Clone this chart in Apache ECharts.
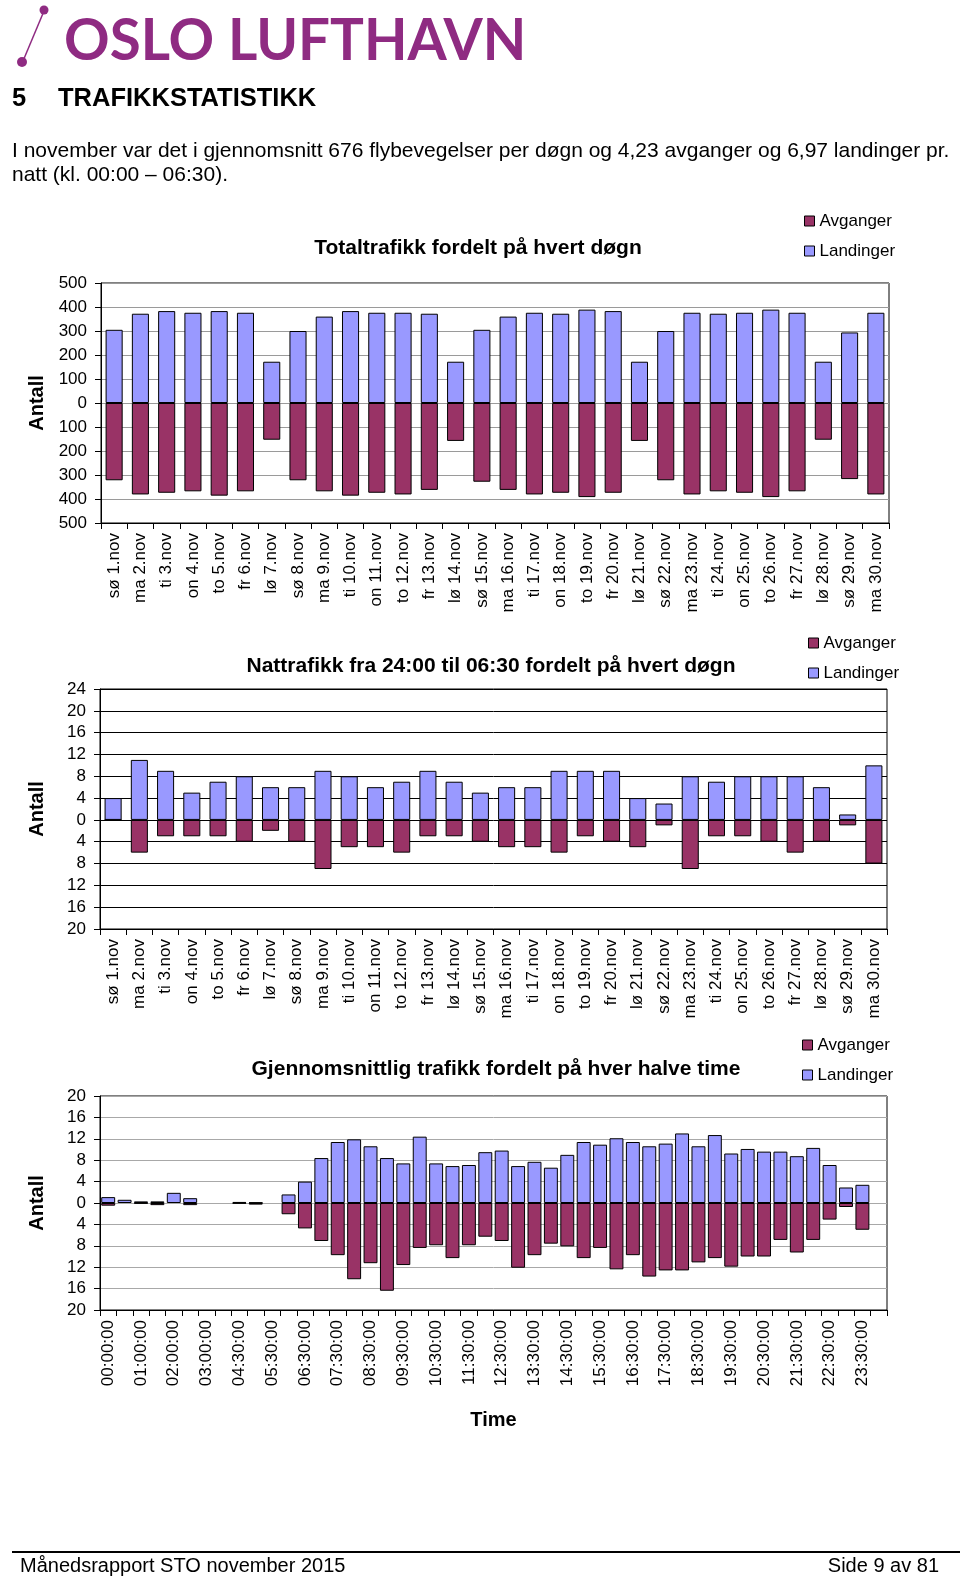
<!DOCTYPE html>
<html>
<head>
<meta charset="utf-8">
<script src="https://cdn.jsdelivr.net/npm/echarts@6/dist/echarts.min.js"></script>
<style>
html,body{margin:0;padding:0;background:#fff;}
#c{width:960px;height:1579px;}
</style>
</head>
<body>
<div id="c"></div>
<script>
// ---------- DATA ----------
var days = ['sø 1.nov','ma 2.nov','ti 3.nov','on 4.nov','to 5.nov','fr 6.nov','lø 7.nov','sø 8.nov','ma 9.nov','ti 10.nov','on 11.nov','to 12.nov','fr 13.nov','lø 14.nov','sø 15.nov','ma 16.nov','ti 17.nov','on 18.nov','to 19.nov','fr 20.nov','lø 21.nov','sø 22.nov','ma 23.nov','ti 24.nov','on 25.nov','to 26.nov','fr 27.nov','lø 28.nov','sø 29.nov','ma 30.nov'];

var totalLandinger = [305,372,383,376,383,376,172,300,360,383,376,376,372,172,305,360,376,372,389,383,172,300,376,372,376,389,376,172,294,376];
var totalAvganger  = [322,381,374,368,386,368,153,322,368,386,374,381,362,158,328,362,381,374,392,374,158,322,381,368,374,392,368,153,317,381];

var nattLandinger = [4,11,9,5,7,8,6,6,9,8,6,7,9,7,5,6,6,9,9,9,4,3,8,7,8,8,8,6,1,10];
var nattAvganger  = [0,6,3,3,3,4,2,4,9,5,5,6,3,3,4,5,5,6,3,4,5,1,9,3,3,4,6,4,1,8];

var halfHours = ['00:00:00','00:30:00','01:00:00','01:30:00','02:00:00','02:30:00','03:00:00','04:00:00','04:30:00','05:00:00','05:30:00','06:00:00','06:30:00','07:00:00','07:30:00','08:00:00','08:30:00','09:00:00','09:30:00','10:00:00','10:30:00','11:00:00','11:30:00','12:00:00','12:30:00','13:00:00','13:30:00','14:00:00','14:30:00','15:00:00','15:30:00','16:00:00','16:30:00','17:00:00','17:30:00','18:00:00','18:30:00','19:00:00','19:30:00','20:00:00','20:30:00','21:00:00','21:30:00','22:00:00','22:30:00','23:00:00','23:30:00',''];
var halvLandinger = [1.1,0.6,0.3,0.3,1.9,0.9,null,null,0.2,0.1,null,1.6,4.0,8.4,11.4,11.9,10.6,8.4,7.4,12.4,7.4,6.9,7.1,9.5,9.8,6.9,7.7,6.6,9.0,11.4,10.9,12.1,11.4,10.6,11.1,13.0,10.6,12.7,9.25,10.1,9.6,9.6,8.75,10.3,7.1,2.9,3.4,null];
var halvAvganger  = [0.5,null,0.1,0.4,null,0.4,null,null,0.1,0.3,null,2.1,4.75,7.1,9.75,14.25,11.25,16.4,11.6,8.4,7.9,10.3,7.9,6.3,7.1,12.1,9.75,7.6,8.1,10.3,8.4,12.4,9.75,13.75,12.6,12.6,11.1,10.3,11.9,10.0,10.0,6.9,9.25,6.9,3.1,0.75,5.0,null];

var seriesNames = ['Avganger','Landinger'];
var colAvg = '#993366', colLand = '#9999FF';

// ---------- CHART ----------
var FONT = '"Liberation Sans", Arial, sans-serif';
var chart = echarts.init(document.getElementById('c'), null, {renderer:'canvas'});

function neg(a){ return a.map(function(v){ return v == null ? null : -v; }); }

function mkX(gi, data, labelInterval, name){
  return {
    type:'category', gridIndex:gi, data:data,
    axisLine:{show:true, onZero:false, lineStyle:{color:'#000', width:1}},
    axisTick:{show:true, interval:0, length:6, lineStyle:{color:'#000'}},
    axisLabel:{interval:labelInterval, rotate:90, fontSize:17, color:'#000', fontFamily:FONT, margin:10},
    splitLine:{show:false},
    name: name || '', nameLocation:'middle', nameGap:100,
    nameTextStyle:{fontSize:20, fontWeight:'bold', color:'#000', fontFamily:FONT}
  };
}
function mkY(gi, min, max, interval, gridColor){
  return {
    type:'value', gridIndex:gi, min:min, max:max, interval:interval,
    axisLine:{show:true, lineStyle:{color:'#000', width:1}},
    axisTick:{show:true, length:6, lineStyle:{color:'#000'}},
    axisLabel:{color:'#000', fontSize:17, fontFamily:FONT, margin:14, formatter:function(v){return String(Math.abs(v));}},
    splitLine:{show:true, lineStyle:{color:gridColor, width:1}},
    name:'Antall', nameLocation:'middle', nameRotate:90, nameGap:53,
    nameTextStyle:{fontSize:20, fontWeight:'bold', color:'#000', fontFamily:FONT}
  };
}
function mkSeries(gi, land, avg, gap){
  return [
    {name:seriesNames[0], type:'bar', xAxisIndex:gi, yAxisIndex:gi, data:neg(avg), barGap:'-100%', barCategoryGap:gap,
     itemStyle:{color:colAvg, borderColor:'#000', borderWidth:1}},
    {name:seriesNames[1], type:'bar', xAxisIndex:gi, yAxisIndex:gi, data:land, barGap:'-100%', barCategoryGap:gap,
     itemStyle:{color:colLand, borderColor:'#000', borderWidth:1}}
  ];
}
function mkLegend(left, top){
  return {
    orient:'vertical', left:left, top:top, padding:0, itemWidth:10, itemHeight:10, itemGap:10, icon:'rect',
    itemStyle:{borderColor:'#000', borderWidth:1},
    textStyle:{fontSize:17, color:'#000', fontFamily:FONT, lineHeight:20},
    data:seriesNames, selectedMode:false
  };
}
function txt(x, y, text, font, align, fill){
  return {type:'text', x:x, y:y, silent:true,
    style:{text:text, font:font, fill:fill||'#000', align:align||'left', verticalAlign:'middle'}};
}

var option = {
  animation:false,
  backgroundColor:'#fff',
  grid:[
    {left:101, top:283, width:788, height:240, show:true, borderColor:'#000', borderWidth:1, backgroundColor:'transparent'},
    {left:100, top:689, width:787, height:240, show:true, borderColor:'#000', borderWidth:1, backgroundColor:'transparent'},
    {left:100, top:1096, width:787, height:214, show:true, borderColor:'#000', borderWidth:1, backgroundColor:'transparent'}
  ],
  xAxis:[ mkX(0, days, 0), mkX(1, days, 0), mkX(2, halfHours, 1, 'Time') ],
  yAxis:[ mkY(0,-500,500,100,'#9a9a9a'), mkY(1,-20,24,4,'#000'), mkY(2,-20,20,4,'#a8a8a8') ],
  legend:[ mkLegend(804, 211), mkLegend(808, 633), mkLegend(802, 1035) ],
  series: [].concat(
    mkSeries(0, totalLandinger, totalAvganger, '35%'),
    mkSeries(1, nattLandinger, nattAvganger, '35%'),
    mkSeries(2, halvLandinger, halvAvganger, '15%')
  ),
  graphic:[
    // logo
    {type:'line', silent:true, shape:{x1:44, y1:11, x2:23, y2:61}, style:{stroke:'#8f2b82', lineWidth:1.5}},
    {type:'circle', silent:true, shape:{cx:44, cy:10, r:4.5}, style:{fill:'#8f2b82'}},
    {type:'circle', silent:true, shape:{cx:22, cy:62, r:5}, style:{fill:'#8f2b82'}},
    txt(64, 42, 'OSLO LUFTHAVN', 'bold 56.5px Lato, "Open Sans", sans-serif', 'left', '#8f2b82'),
    txt(12, 99, '5', 'bold 25.5px ' + FONT),
    txt(58, 99, 'TRAFIKKSTATISTIKK', 'bold 25.5px ' + FONT),
    txt(12, 151, 'I november var det i gjennomsnitt 676 flybevegelser per døgn og 4,23 avganger og 6,97 landinger pr.', '21px ' + FONT),
    txt(12, 175, 'natt (kl. 00:00 – 06:30).', '21px ' + FONT),
    // chart titles
    txt(478, 248, 'Totaltrafikk fordelt på hvert døgn', 'bold 21px ' + FONT, 'center'),
    txt(491, 666, 'Nattrafikk fra 24:00 til 06:30 fordelt på hvert døgn', 'bold 21px ' + FONT, 'center'),
    txt(496, 1069, 'Gjennomsnittlig trafikk fordelt på hver halve time', 'bold 21px ' + FONT, 'center'),
    // footer
    {type:'line', silent:true, shape:{x1:12, y1:1552, x2:960, y2:1552}, style:{stroke:'#000', lineWidth:2}},
    txt(20, 1566, 'Månedsrapport STO november 2015', '20px "Liberation Sans Narrow", ' + FONT),
    txt(939, 1566, 'Side 9 av 81', '20px "Liberation Sans Narrow", ' + FONT, 'right')
  ]
};
chart.setOption(option);
</script>
</body>
</html>
